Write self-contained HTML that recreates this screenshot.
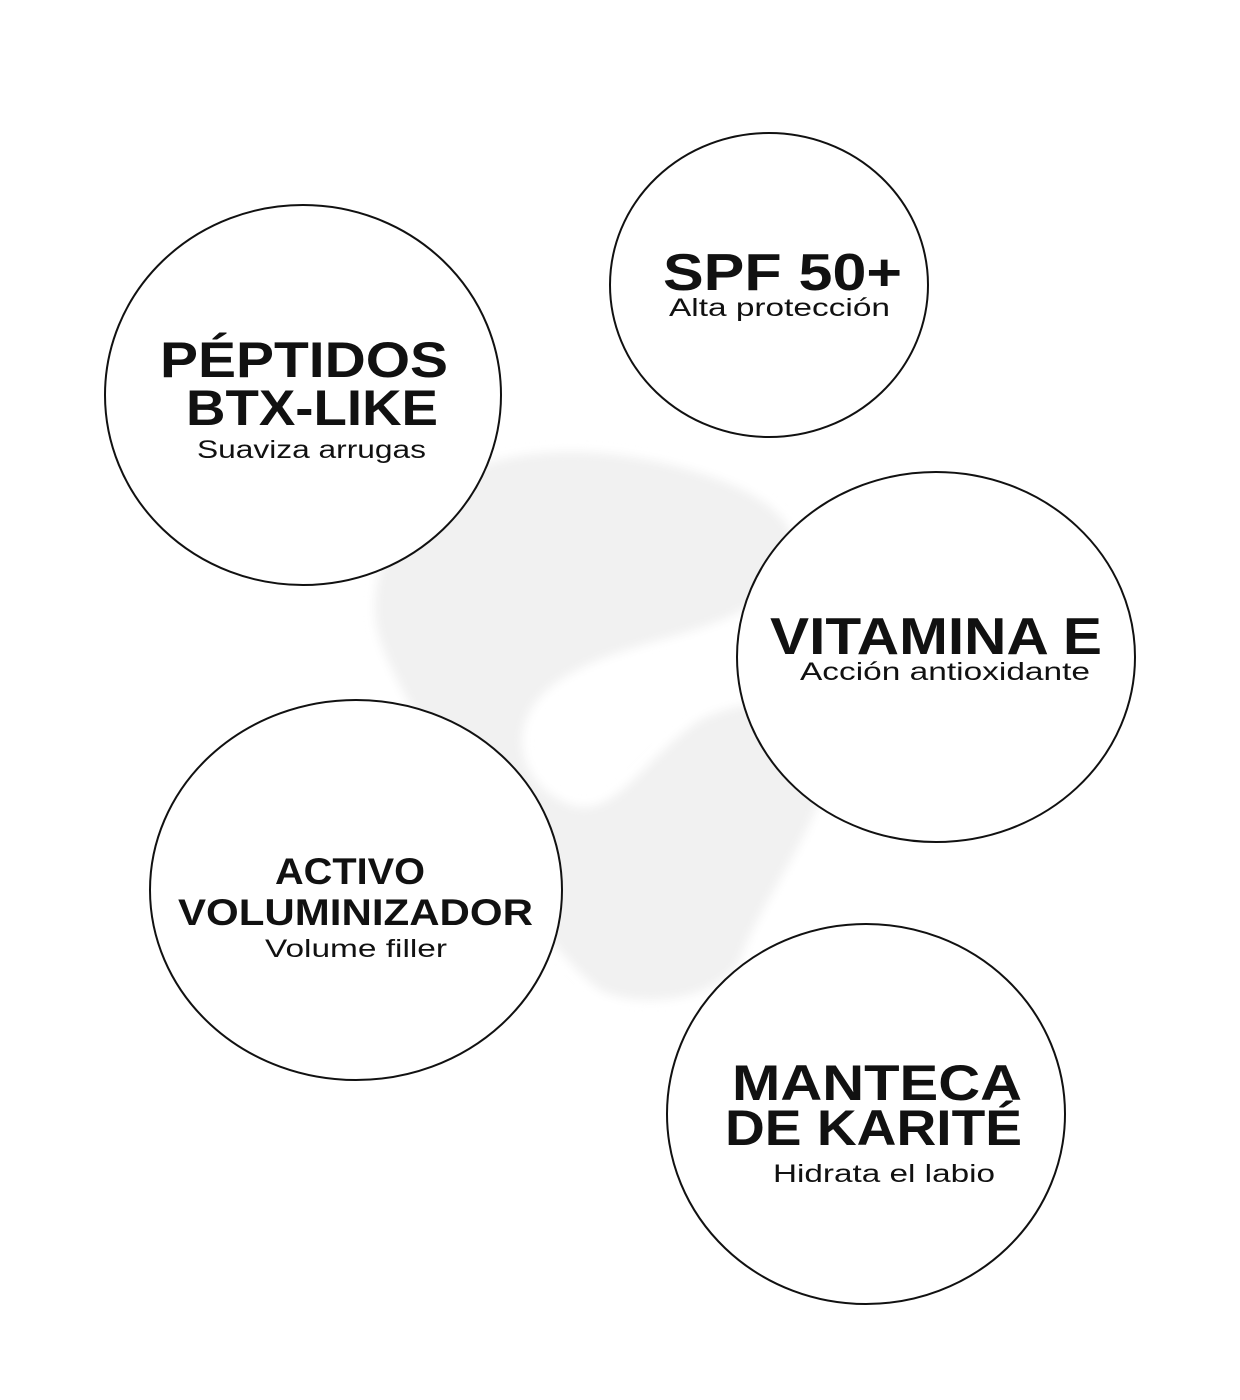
<!DOCTYPE html>
<html><head><meta charset="utf-8"><style>
html,body{margin:0;padding:0;background:#fff;}
svg{display:block}
text{font-family:"Liberation Sans",sans-serif;fill:#111;text-anchor:start}
.b{font-weight:bold}
</style></head><body>
<svg width="1240" height="1400" viewBox="0 0 1240 1400" xmlns="http://www.w3.org/2000/svg">
<defs><filter id="bl"><feGaussianBlur stdDeviation="5"/></filter></defs>
<g filter="url(#bl)" fill="#f1f1f1">
<path d="M470 470 C540 440 640 450 720 480 C800 510 820 560 760 600 C700 640 620 640 560 680 C500 720 520 780 560 800 C610 830 640 760 700 720 C760 690 840 700 830 760 C820 830 760 900 740 960 C720 1000 640 1010 600 990 C560 960 520 900 500 860 C470 800 400 700 380 640 C360 580 400 500 470 470 Z"/>
</g>
<g fill="#fff" stroke="#111" stroke-width="2">
<ellipse cx="303" cy="395" rx="198" ry="190"/>
<ellipse cx="769" cy="285" rx="159" ry="152"/>
<ellipse cx="936" cy="657" rx="199" ry="185"/>
<ellipse cx="356" cy="890" rx="206" ry="190"/>
<ellipse cx="866" cy="1114" rx="199" ry="190"/>
</g>
<text class="b" x="160" y="377" font-size="50" textLength="288" lengthAdjust="spacingAndGlyphs">PÉPTIDOS</text>
<text class="b" x="186" y="425" font-size="50" textLength="252" lengthAdjust="spacingAndGlyphs">BTX-LIKE</text>
<text x="197" y="458" font-size="25" textLength="229" lengthAdjust="spacingAndGlyphs">Suaviza arrugas</text>

<text class="b" x="663" y="290" font-size="52" textLength="239" lengthAdjust="spacingAndGlyphs">SPF 50+</text>
<text x="669" y="316" font-size="25" textLength="221" lengthAdjust="spacingAndGlyphs">Alta protección</text>

<text class="b" x="770" y="654" font-size="52" textLength="332" lengthAdjust="spacingAndGlyphs">VITAMINA E</text>
<text x="800" y="680" font-size="25" textLength="290" lengthAdjust="spacingAndGlyphs">Acción antioxidante</text>

<text class="b" x="275" y="884" font-size="37" textLength="150" lengthAdjust="spacingAndGlyphs">ACTIVO</text>
<text class="b" x="178" y="925" font-size="37" textLength="355" lengthAdjust="spacingAndGlyphs">VOLUMINIZADOR</text>
<text x="265" y="957" font-size="25" textLength="182" lengthAdjust="spacingAndGlyphs">Volume filler</text>

<text class="b" x="732" y="1100" font-size="50" textLength="290" lengthAdjust="spacingAndGlyphs">MANTECA</text>
<text class="b" x="725" y="1145" font-size="50" textLength="297" lengthAdjust="spacingAndGlyphs">DE KARITÉ</text>
<text x="773" y="1182" font-size="25" textLength="222" lengthAdjust="spacingAndGlyphs">Hidrata el labio</text>
</svg>
</body></html>
